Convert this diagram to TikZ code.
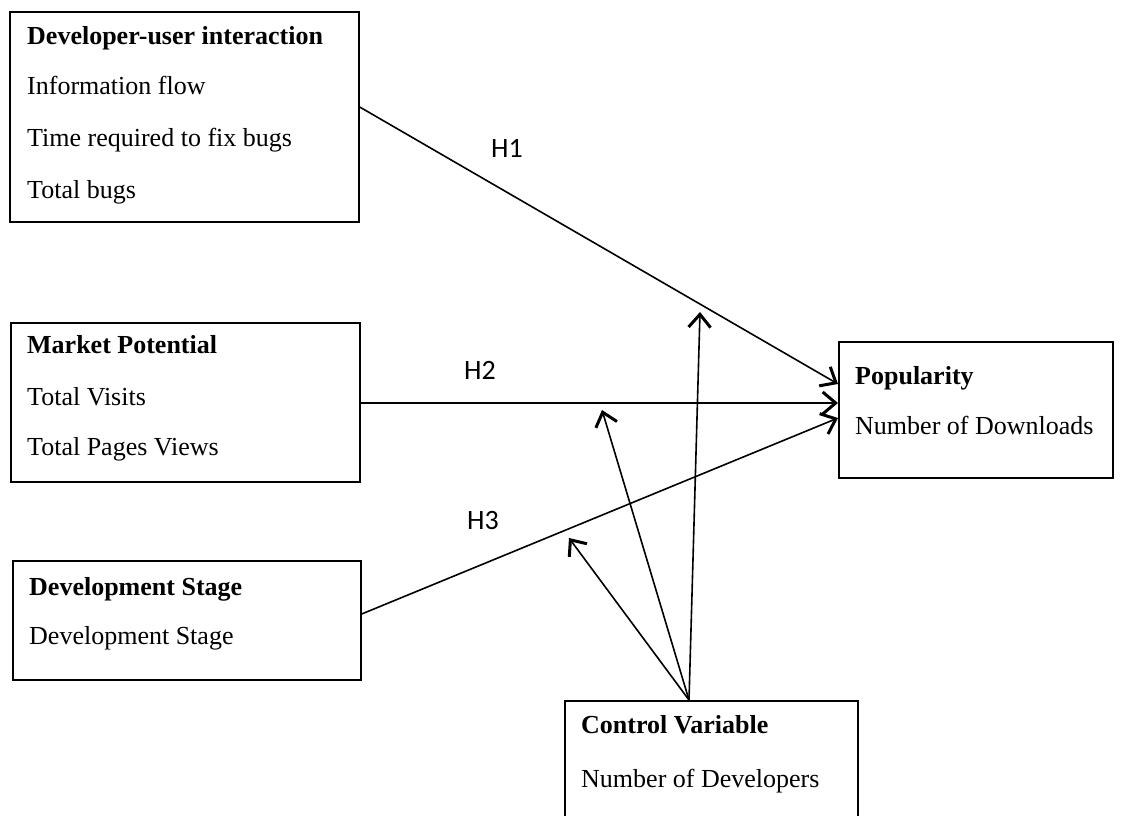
\documentclass[tikz,border=0pt]{standalone}
\usepackage{fontspec}
\setmainfont{Liberation Serif}
\newfontfamily\labfont{Carlito}
\usetikzlibrary{arrows.meta,calc}
\begin{document}
\begin{tikzpicture}[x=1pt,y=-1pt,
  box/.style={draw, line width=1.7pt, rectangle, inner sep=0pt, anchor=north west},
  txt/.style={anchor=base west, inner sep=0pt, font=\fontsize{26}{30}\selectfont},
  bold/.style={txt, font=\fontsize{26}{30}\selectfont\bfseries},
  hlab/.style={inner sep=0pt, font=\labfont\fontsize{28}{32}\selectfont},
  conn/.style={line width=1.6pt, -{Straight Barb[length=13pt,width=22pt,line width=3pt]}}
]
\useasboundingbox (0,0) rectangle (1121,816);

% boxes
\node[box, minimum width=349pt, minimum height=210pt] (dui) at (9,11) {};
\node[box, minimum width=349pt, minimum height=159pt] (mkt) at (10,322) {};
\node[box, minimum width=348pt, minimum height=119pt] (dev) at (12,560) {};
\node[box, minimum width=274pt, minimum height=136pt] (pop) at (838,341) {};
\node[box, minimum width=293pt, minimum height=116pt] (ctrl) at (564,700) {};

% texts
\node[bold] (t11) at (27,45) {Developer-user interaction};
\node[txt]  (t12) at (27,94) {Information flow};
\node[txt]  (t13) at (27,146) {Time required to fix bugs};
\node[txt]  (t14) at (27,198) {Total bugs};

\node[bold] (t21) at (27,353) {Market Potential};
\node[txt]  (t22) at (27,405) {Total Visits};
\node[txt]  (t23) at (27,455) {Total Pages Views};

\node[bold] (t31) at (29,595) {Development Stage};
\node[txt]  (t32) at (29,644) {Development Stage};

\node[bold] (t41) at (855,384) {Popularity};
\node[txt]  (t42) at (855,434) {Number of Downloads};

\node[bold] (t51) at (581,733) {Control Variable};
\node[txt]  (t52) at (581,787) {Number of Developers};

% hypothesis labels
\node[hlab] (h1) at (507,148) {H1};
\node[hlab] (h2) at (480,370) {H2};
\node[hlab] (h3) at (483,521) {H3};

% main connectors
\draw[conn] ($(dui.north east)+(0,96)$) -- ($(pop.north west)+(0,43)$);
\draw[conn] ($(mkt.north east)+(0,81)$) -- ($(pop.north west)+(0,62)$);
\draw[conn] ($(dev.north east)+(0,54)$) -- ($(pop.north west)+(0,77)$);

% control variable connectors
\coordinate (c1) at (700,312);
\coordinate (c2) at (602,410);
\coordinate (c3) at (569,538);
\coordinate (cs) at ($(ctrl.north west)+(125,0)$);
\draw[conn] (cs) -- (c1);
\draw[conn] (cs) -- (c2);
\draw[conn] (cs) -- (c3);
\end{tikzpicture}
\end{document}
